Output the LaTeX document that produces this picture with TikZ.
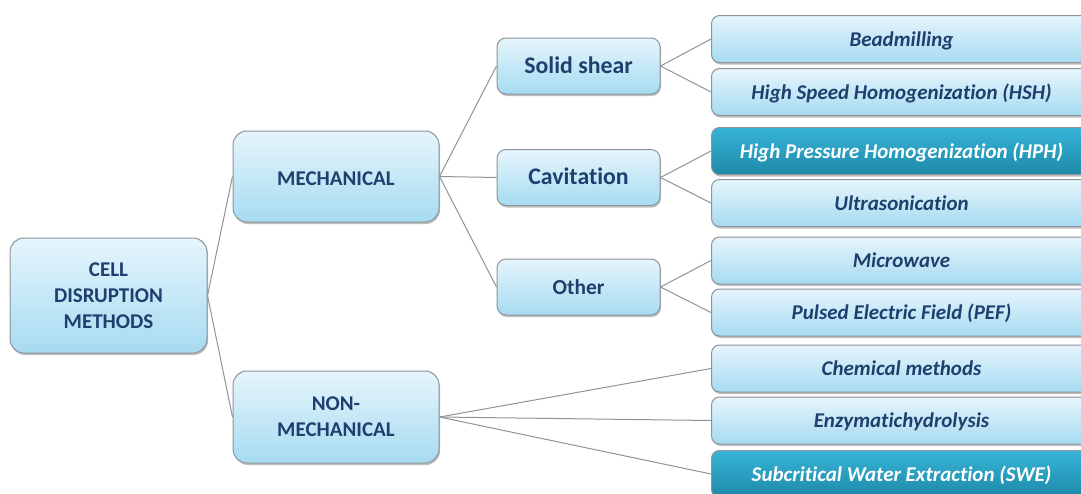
\documentclass[tikz,border=0pt]{standalone}
\usepackage{fontspec}
\setmainfont{Carlito}[Ligatures={NoCommon,NoRare,NoDiscretionary}]
\usetikzlibrary{shadows}
\definecolor{txtblue}{HTML}{1F3F6E}
\definecolor{ltop}{HTML}{E6F5FC}
\definecolor{lbot}{HTML}{A6DBF1}
\definecolor{dtop}{HTML}{36B4D8}
\definecolor{dbot}{HTML}{1E89A8}
\definecolor{edge}{HTML}{8E9499}
\tikzset{
  base/.style={draw=edge, line width=1pt, align=center, inner sep=0pt,
    drop shadow={shadow xshift=1pt, shadow yshift=-2pt, opacity=0.25, fill=black}},
  light/.style={base, top color=ltop, bottom color=lbot, text=txtblue},
  dark/.style={base, top color=dtop, bottom color=dbot, text=white},
  big/.style={light, rounded corners=14pt, font=\bfseries\fontsize{21}{26}\selectfont},
  mid/.style={light, rounded corners=9pt, minimum width=163pt, minimum height=56pt,
    text height=17pt, text depth=2.4pt, font=\bfseries\fontsize{23.8}{26}\selectfont},
  midsm/.style={mid, font=\bfseries\fontsize{21.4}{24}\selectfont},
  leaf/.style={rounded corners=8pt, minimum width=380pt, minimum height=47pt,
    text height=16pt, text depth=2pt, font=\bfseries\itshape\fontsize{21}{24}\selectfont},
  conn/.style={draw=edge, line width=1pt}
}
\begin{document}
\begin{tikzpicture}[x=1pt,y=-1pt]
\useasboundingbox (0,0) rectangle (1081,493);
% level 0
\node[big, minimum width=197pt, minimum height=115pt] (root) at (108.5,295.5) {CELL\\DISRUPTION\\METHODS};
% level 1
\node[big, minimum width=206pt, minimum height=91pt, text height=17pt, text depth=0pt] (mech) at (336,176.5) {MECHANICAL};
\node[big, minimum width=206pt, minimum height=92pt] (nonmech) at (336,417) {NON-\\MECHANICAL};
% level 2
\node[mid] (solid) at (578.5,66) {Solid shear};
\node[mid] (cav) at (578.5,177.5) {Cavitation};
\node[midsm] (other) at (578.5,287) {Other};
% leaves (left edge at 711)
\node[leaf, light, anchor=west] (l1) at (711,39) {Beadmilling};
\node[leaf, light, anchor=west] (l2) at (711,92) {High Speed Homogenization (HSH)};
\node[leaf, dark, anchor=west] (l3) at (711,151) {High Pressure Homogenization (HPH)};
\node[leaf, light, anchor=west] (l4) at (711,203) {Ultrasonication};
\node[leaf, light, anchor=west] (l5) at (711,260.5) {Microwave};
\node[leaf, light, anchor=west] (l6) at (711,312.5) {Pulsed Electric Field (PEF)};
\node[leaf, light, anchor=west] (l7) at (711,368.5) {Chemical methods};
\node[leaf, light, anchor=west] (l8) at (711,420.5) {Enzymatichydrolysis};
\node[leaf, dark, anchor=west] (l9) at (711,474) {Subcritical Water Extraction (SWE)};
% connectors
\draw[conn] (root.east) -- (mech.west);
\draw[conn] (root.east) -- (nonmech.west);
\draw[conn] (mech.east) -- (solid.west);
\draw[conn] (mech.east) -- (cav.west);
\draw[conn] (mech.east) -- (other.west);
\draw[conn] (solid.east) -- (l1.west);
\draw[conn] (solid.east) -- (l2.west);
\draw[conn] (cav.east) -- (l3.west);
\draw[conn] (cav.east) -- (l4.west);
\draw[conn] (other.east) -- (l5.west);
\draw[conn] (other.east) -- (l6.west);
\draw[conn] (nonmech.east) -- (l7.west);
\draw[conn] (nonmech.east) -- (l8.west);
\draw[conn] (nonmech.east) -- (l9.west);
\end{tikzpicture}
\end{document}
